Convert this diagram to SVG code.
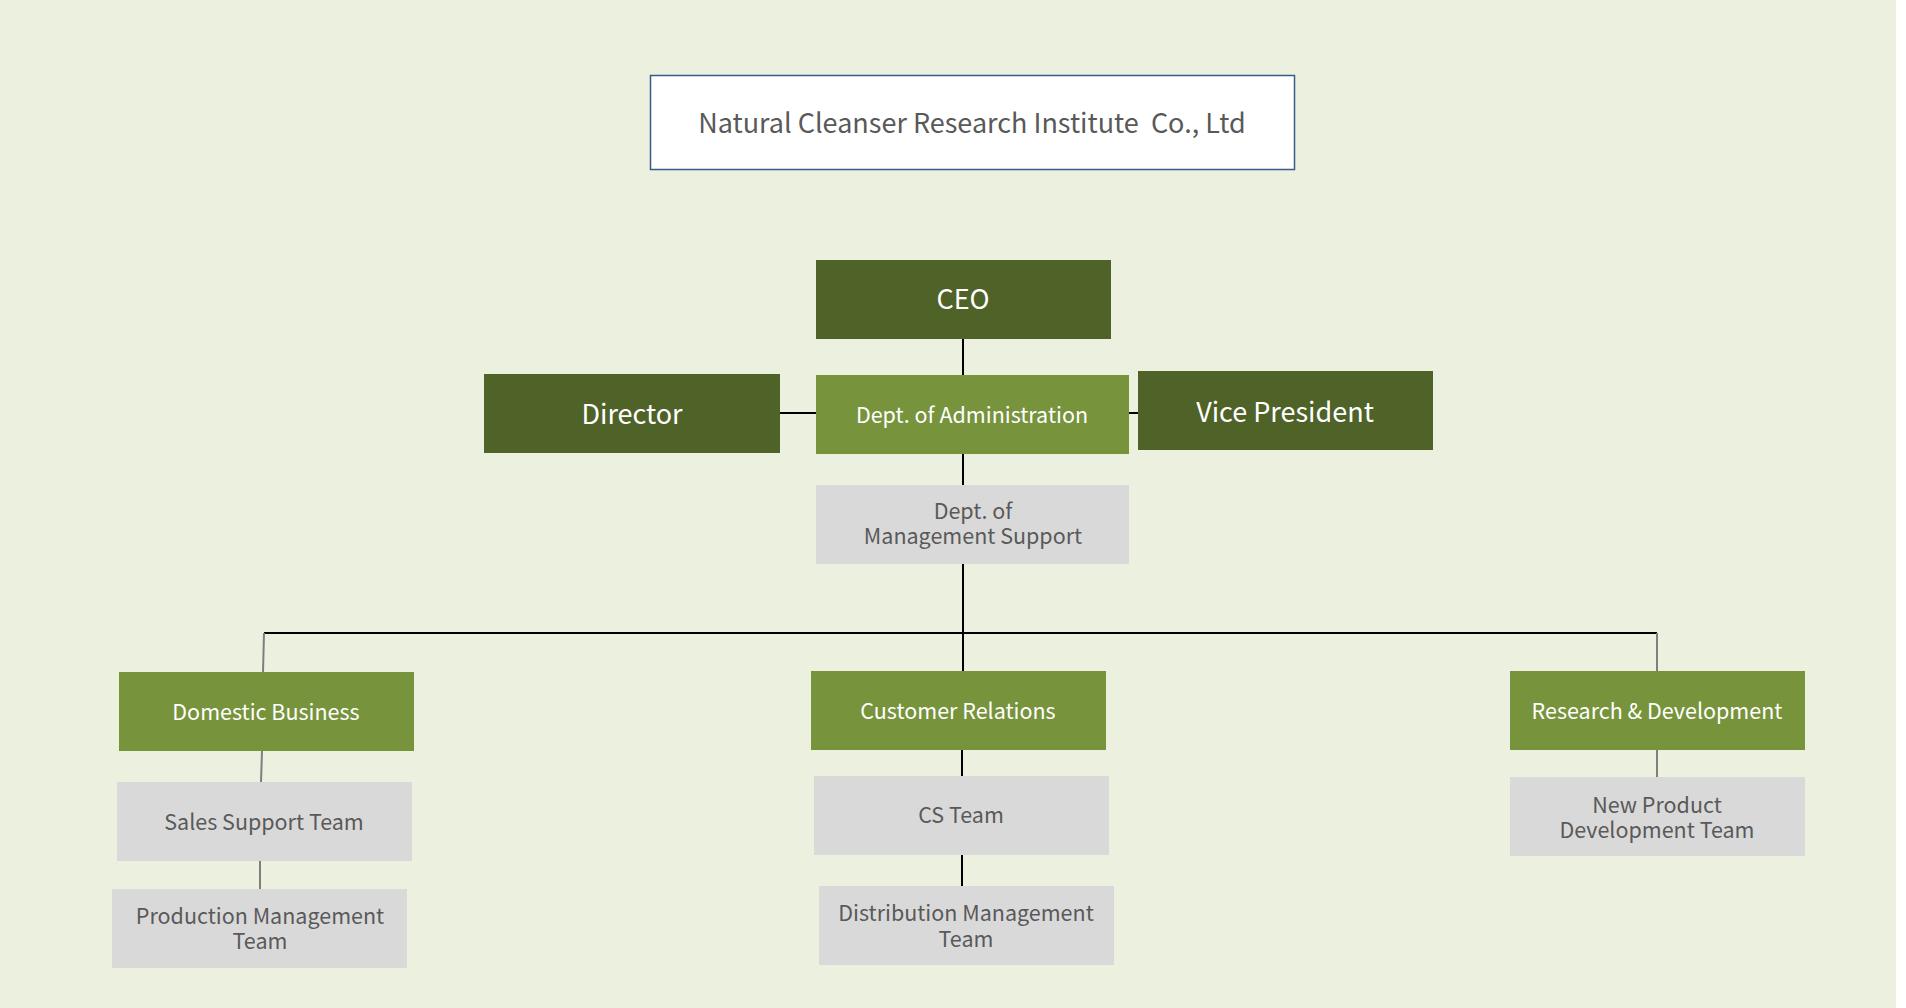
<svg xmlns="http://www.w3.org/2000/svg" width="1906" height="1008" viewBox="0 0 1906 1008">
<style>
text{font-family:"Noto Sans CJK KR","Noto Sans",sans-serif;text-anchor:middle}
.dk{fill:#4f6228}
.md{fill:#77933c}
.gy{fill:#d9d9d9}
.tw{fill:#ffffff}
.tg{fill:#595959}
.big{font-size:27px}
.mid{font-size:21.5px}
.ln{stroke:#000;stroke-width:2;fill:none}
.lg{stroke:#7f7f7f;stroke-width:2;fill:none}
</style>
<rect x="0" y="0" width="1906" height="1008" fill="#ffffff"/>
<rect x="0" y="0" width="1896" height="1008" fill="#ebf0df"/>
<g id="connectors">
<line class="ln" x1="963" y1="339" x2="963" y2="375"/>
<line class="ln" x1="780" y1="413" x2="816" y2="413"/>
<line class="ln" x1="1129" y1="413" x2="1138" y2="413"/>
<line class="ln" x1="963" y1="454" x2="963" y2="485"/>
<line class="ln" x1="963" y1="564" x2="963" y2="671"/>
<line class="ln" x1="264" y1="633" x2="1657" y2="633"/>
<line class="lg" x1="264" y1="633" x2="263" y2="672"/>
<line class="lg" x1="262" y1="751" x2="261" y2="782"/>
<line class="lg" x1="260" y1="861" x2="260" y2="889"/>
<line class="ln" x1="962" y1="750" x2="962" y2="776"/>
<line class="ln" x1="962" y1="855" x2="962" y2="886"/>
<line class="lg" x1="1657" y1="633" x2="1657" y2="671"/>
<line class="lg" x1="1657" y1="750" x2="1657" y2="777"/>
</g>
<g id="title">
<rect x="650.5" y="75.5" width="644" height="94" fill="#ffffff" stroke="#3a5a8c" stroke-width="1.5"/>
<text class="tg big" x="972" y="133" style="white-space:pre" xml:space="preserve">Natural Cleanser Research Institute  Co., Ltd</text>
</g>
<g id="ceo">
<rect class="dk" x="816" y="260" width="295" height="79"/>
<text class="tw big" x="963" y="309">CEO</text>
</g>
<g id="director">
<rect class="dk" x="484" y="374" width="296" height="79"/>
<text class="tw big" x="632" y="424">Director</text>
</g>
<g id="admin">
<rect class="md" x="816" y="375" width="313" height="79"/>
<text class="tw mid" x="972" y="423">Dept. of Administration</text>
</g>
<g id="vp">
<rect class="dk" x="1138" y="371" width="295" height="79"/>
<text class="tw big" x="1285" y="422">Vice President</text>
</g>
<g id="mgmt">
<rect class="gy" x="816" y="485" width="313" height="79"/>
<text class="tg mid" x="973" y="519">Dept. of</text>
<text class="tg mid" x="973" y="544">Management Support</text>
</g>
<g id="domestic">
<rect class="md" x="119" y="672" width="295" height="79"/>
<text class="tw mid" x="266" y="720">Domestic Business</text>
</g>
<g id="sales">
<rect class="gy" x="117" y="782" width="295" height="79"/>
<text class="tg mid" x="264" y="830">Sales Support Team</text>
</g>
<g id="production">
<rect class="gy" x="112" y="889" width="295" height="79"/>
<text class="tg mid" x="260" y="924">Production Management</text>
<text class="tg mid" x="260" y="949">Team</text>
</g>
<g id="customer">
<rect class="md" x="811" y="671" width="295" height="79"/>
<text class="tw mid" x="958" y="719">Customer Relations</text>
</g>
<g id="cs">
<rect class="gy" x="814" y="776" width="295" height="79"/>
<text class="tg mid" x="961" y="823">CS Team</text>
</g>
<g id="distribution">
<rect class="gy" x="819" y="886" width="295" height="79"/>
<text class="tg mid" x="966" y="921">Distribution Management</text>
<text class="tg mid" x="966" y="947">Team</text>
</g>
<g id="rnd">
<rect class="md" x="1510" y="671" width="295" height="79"/>
<text class="tw mid" x="1657" y="719">Research &amp; Development</text>
</g>
<g id="newproduct">
<rect class="gy" x="1510" y="777" width="295" height="79"/>
<text class="tg mid" x="1657" y="813">New Product</text>
<text class="tg mid" x="1657" y="838">Development Team</text>
</g>
</svg>
